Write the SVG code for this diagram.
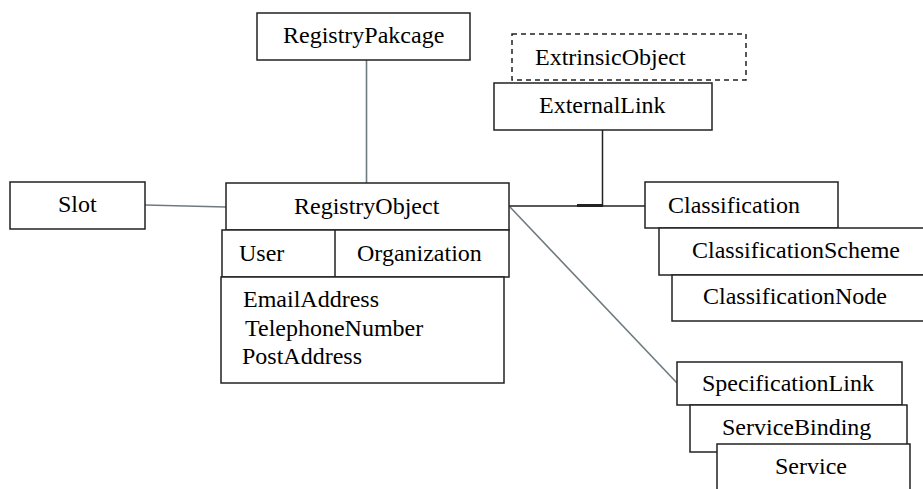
<svg xmlns="http://www.w3.org/2000/svg" width="923" height="489" viewBox="0 0 923 489">
  <style>
    .box { fill: #ffffff; stroke: #222222; stroke-width: 1.5; }
    .dash { fill: #ffffff; stroke: #222222; stroke-width: 1.5; stroke-dasharray: 5 4; }
    .dark { stroke: #222222; stroke-width: 1.5; fill: none; }
    .grey { stroke: #6f7a80; stroke-width: 1.6; fill: none; }
  </style>
  <rect width="923" height="489" fill="#ffffff"/>

  <!-- connectors -->
  <g id="connectors">
    <line class="grey" x1="366.5" y1="60" x2="366.5" y2="183"/>
    <line class="grey" x1="145" y1="205" x2="226" y2="207"/>
    <line class="grey" x1="510" y1="207" x2="677" y2="383"/>
    <line class="dark" x1="509" y1="206" x2="645" y2="206"/>
    <line class="dark" x1="602.5" y1="130" x2="602.5" y2="206"/>
    <line stroke="#222222" stroke-width="3" x1="577" y1="205.5" x2="603" y2="205.5"/>
  </g>

  <g id="registry-package">
    <rect class="box" x="257" y="13" width="213" height="47"/>
    <text x="283" y="43" font-family="Liberation Serif" font-size="24">RegistryPakcage</text>
  </g>

  <g id="slot">
    <rect class="box" x="10" y="182" width="135" height="47"/>
    <text x="58" y="212" font-family="Liberation Serif" font-size="24">Slot</text>
  </g>

  <g id="registry-object">
    <rect class="box" x="226" y="183" width="283" height="47"/>
    <text x="294" y="214" font-family="Liberation Serif" font-size="24">RegistryObject</text>
  </g>

  <g id="user-organization">
    <rect class="box" x="222" y="230" width="287" height="47"/>
    <line class="dark" x1="335" y1="230" x2="335" y2="277"/>
    <text x="239" y="261" font-family="Liberation Serif" font-size="24">User</text>
    <text x="357" y="261" font-family="Liberation Serif" font-size="24">Organization</text>
  </g>

  <g id="contact-details">
    <rect class="box" x="221" y="277" width="283" height="106"/>
    <text x="243" y="307" font-family="Liberation Serif" font-size="24">EmailAddress</text>
    <text x="245" y="336" font-family="Liberation Serif" font-size="24">TelephoneNumber</text>
    <text x="242" y="364" font-family="Liberation Serif" font-size="24">PostAddress</text>
  </g>

  <g id="extrinsic-object">
    <rect class="dash" x="512" y="34" width="234" height="46"/>
    <text x="535" y="65" font-family="Liberation Serif" font-size="24">ExtrinsicObject</text>
  </g>

  <g id="external-link">
    <rect class="box" x="494" y="83" width="218" height="47"/>
    <text x="539" y="113" font-family="Liberation Serif" font-size="24">ExternalLink</text>
  </g>

  <g id="classification">
    <rect class="box" x="645" y="182" width="193" height="46"/>
    <text x="668" y="213" font-family="Liberation Serif" font-size="24">Classification</text>
  </g>

  <g id="classification-scheme">
    <rect class="box" x="659" y="228" width="280" height="47"/>
    <text x="692" y="258" font-family="Liberation Serif" font-size="24">ClassificationScheme</text>
  </g>

  <g id="classification-node">
    <rect class="box" x="672" y="275" width="267" height="46"/>
    <text x="703" y="304" font-family="Liberation Serif" font-size="24">ClassificationNode</text>
  </g>

  <g id="specification-link">
    <rect class="box" x="677" y="362" width="225" height="43"/>
    <text x="702" y="391" font-family="Liberation Serif" font-size="24">SpecificationLink</text>
  </g>

  <g id="service-binding">
    <rect class="box" x="690" y="405" width="217" height="47"/>
    <text x="722" y="435" font-family="Liberation Serif" font-size="24">ServiceBinding</text>
  </g>

  <g id="service">
    <rect class="box" x="717" y="444" width="193" height="60"/>
    <text x="775" y="474" font-family="Liberation Serif" font-size="24">Service</text>
  </g>
</svg>
